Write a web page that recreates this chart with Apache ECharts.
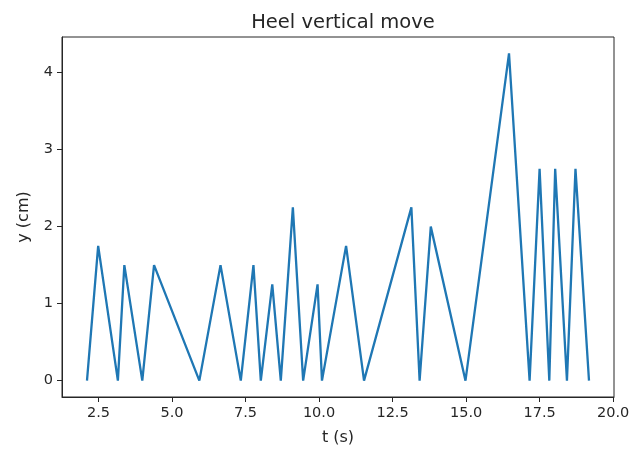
<!DOCTYPE html>
<html>
<head>
<meta charset="utf-8">
<script src="https://cdn.jsdelivr.net/npm/echarts@6/dist/echarts.min.js"></script>
<style>html,body{margin:0;padding:0;background:#fff}#c{width:638px;height:450px}</style>
</head>
<body>
<div id="c"></div>
<script>
var tValues = [2.11, 2.49, 3.16, 3.38, 3.99, 4.39, 5.93, 6.65, 7.34, 7.77, 8.02, 8.41, 8.70, 9.11, 9.46, 9.95, 10.10, 10.92, 11.53, 13.14, 13.42, 13.80, 14.98, 16.46, 17.16, 17.50, 17.83, 18.03, 18.43, 18.72, 19.18];
var yValues = [0, 1.75, 0, 1.5, 0, 1.5, 0, 1.5, 0, 1.5, 0, 1.25, 0, 2.25, 0, 1.25, 0, 1.75, 0, 2.25, 0, 2.0, 0, 4.25, 0, 2.75, 0, 2.75, 0, 2.75, 0];
var xTicks = [2.5, 5.0, 7.5, 10.0, 12.5, 15.0, 17.5, 20.0];
var yTicks = [0, 1, 2, 3, 4];

var data = tValues.map(function (t, i) { return [t, yValues[i]]; });
var font = 'DejaVu Sans';
var chart = echarts.init(document.getElementById('c'), null, {renderer: 'canvas'});
chart.setOption({
  animation: false,
  backgroundColor: '#fff',
  title: {
    text: 'Heel vertical move',
    left: 338, top: 8, textAlign: 'center',
    textStyle: {fontFamily: font, fontSize: 19.5, fontWeight: 'normal', color: '#262626'}
  },
  grid: {left: 62, right: 24, top: 37, bottom: 53, show: true, borderColor: '#262626', borderWidth: 1, outerBoundsMode: 'none', containLabel: false},
  xAxis: {
    type: 'value', min: 1.26, max: 20.03,
    name: 't (s)', nameLocation: 'middle', nameGap: 33,
    nameTextStyle: {fontFamily: font, fontSize: 16, color: '#262626'},
    axisLine: {show: true, onZero: false, lineStyle: {color: '#262626', width: 1}},
    axisTick: {show: true, length: 5, customValues: xTicks, lineStyle: {color: '#262626'}},
    axisLabel: {show: true, margin: 9, customValues: xTicks, fontFamily: font, fontSize: 14.5, color: '#262626',
      formatter: function (v) { return v.toFixed(1); }},
    splitLine: {show: false}
  },
  yAxis: {
    type: 'value', min: -0.2125, max: 4.4625,
    name: 'y (cm)', nameLocation: 'middle', nameGap: 30,
    nameTextStyle: {fontFamily: font, fontSize: 16, color: '#262626'},
    axisLine: {show: true, onZero: false, lineStyle: {color: '#262626', width: 1}},
    axisTick: {show: true, length: 5, customValues: yTicks, lineStyle: {color: '#262626'}},
    axisLabel: {show: true, margin: 9, customValues: yTicks, fontFamily: font, fontSize: 14.5, color: '#262626',
      formatter: function (v) { return String(v); }},
    splitLine: {show: false}
  },
  series: [{
    type: 'line', data: data, showSymbol: false, symbol: 'none',
    lineStyle: {color: '#1f77b4', width: 2.3}, itemStyle: {color: '#1f77b4'}
  }]
});
</script>
</body>
</html>
